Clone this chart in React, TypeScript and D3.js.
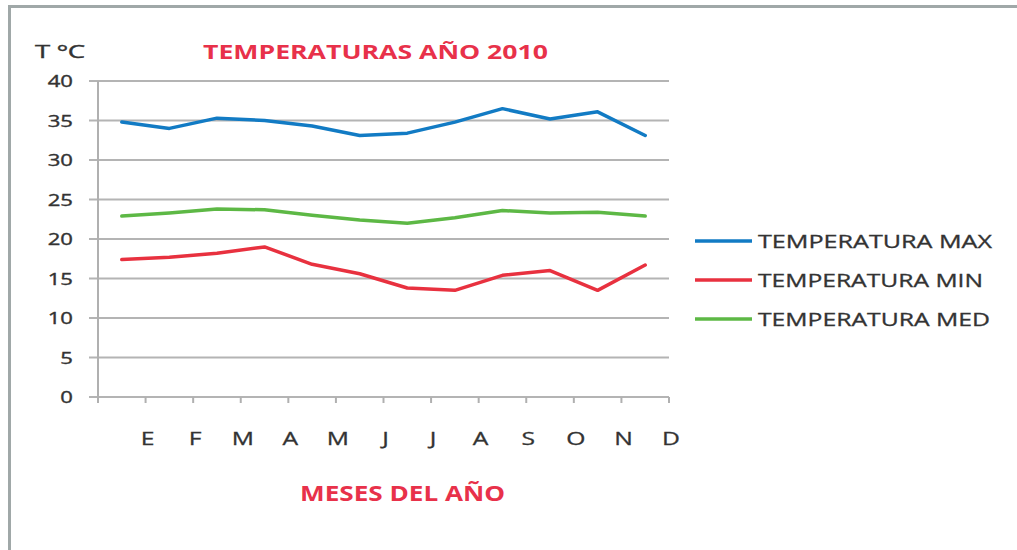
import React, { useEffect, useRef } from 'react';
import * as d3 from 'd3';

const months = ['E', 'F', 'M', 'A', 'M', 'J', 'J', 'A', 'S', 'O', 'N', 'D'];
const tempMax = [34.8, 34.0, 35.3, 35.0, 34.3, 33.1, 33.4, 34.8, 36.5, 35.2, 36.1, 33.1];
const tempMin = [17.4, 17.7, 18.2, 19.0, 16.8, 15.6, 13.8, 13.5, 15.4, 16.0, 13.5, 16.7];
const tempMed = [22.9, 23.3, 23.8, 23.7, 23.0, 22.4, 22.0, 22.7, 23.6, 23.3, 23.4, 22.9];
const yTicks = [0, 5, 10, 15, 20, 25, 30, 35, 40];
const seriesNames = ['TEMPERATURA MAX', 'TEMPERATURA MIN', 'TEMPERATURA MED'];
const seriesColors = ['#127bc4', '#e8313f', '#5db845'];

export default function App() {
    const ref = useRef<SVGSVGElement>(null);

    useEffect(() => {
        const svg = d3.select(ref.current);
        svg.selectAll('*').remove();

        const left = 98, right = 669, top = 81, bottom = 397;
        const font = '"Open Sans", sans-serif';
        const textColor = '#333';
        const sx = 1.3; // the picture is stretched sideways

        // frame
        svg.append('path')
            .attr('d', 'M9.5,550 V6.5 H1017')
            .attr('fill', 'none')
            .attr('stroke', '#a0a8a8')
            .attr('stroke-width', 3);

        const idx = months.map((_, i) => i);
        const x = d3.scaleBand<number>().domain(idx).range([left, right]);
        const y = d3.scaleLinear().domain([0, 40]).range([bottom, top]);

        // gridlines
        svg.append('g').selectAll('line')
            .data(yTicks)
            .enter()
            .append('line')
            .attr('x1', left - 9)
            .attr('x2', right)
            .attr('y1', d => y(d))
            .attr('y2', d => y(d))
            .attr('stroke', '#b4b4b4')
            .attr('stroke-width', 2);

        // y axis line
        svg.append('line')
            .attr('x1', left).attr('x2', left)
            .attr('y1', top).attr('y2', bottom + 6)
            .attr('stroke', '#b0b0b0').attr('stroke-width', 2);

        // x ticks at band edges
        svg.append('g').selectAll('line')
            .data(idx)
            .enter()
            .append('line')
            .attr('x1', d => (x(d) as number) + x.bandwidth())
            .attr('x2', d => (x(d) as number) + x.bandwidth())
            .attr('y1', bottom)
            .attr('y2', bottom + 6)
            .attr('stroke', '#b0b0b0')
            .attr('stroke-width', 2);

        // y tick labels
        svg.append('g').selectAll('text')
            .data(yTicks)
            .enter()
            .append('text')
            .attr('transform', d => `translate(${left - 25},${y(d) + 6}) scale(${sx},1)`)
            .attr('text-anchor', 'end')
            .attr('font-family', font)
            .attr('font-size', 17)
            .attr('fill', textColor)
            .attr('stroke', textColor)
            .attr('stroke-width', 0.4)
            .text(d => d);

        // month labels, placed at right edge of each band like the original
        svg.append('g').selectAll('text')
            .data(idx)
            .enter()
            .append('text')
            .attr('transform', d => `translate(${(x(d) as number) + x.bandwidth() + 2},445) scale(${sx},1)`)
            .attr('text-anchor', 'middle')
            .attr('font-family', font)
            .attr('font-size', 19)
            .attr('fill', textColor)
            .attr('stroke', textColor)
            .attr('stroke-width', 0.3)
            .text(d => months[d]);

        // lines
        const line = d3.line<number>()
            .x((_, i) => (x(i) as number) + x.bandwidth() / 2)
            .y(d => y(d));

        [tempMax, tempMin, tempMed].forEach((s, i) => {
            svg.append('path')
                .datum(s)
                .attr('d', line)
                .attr('fill', 'none')
                .attr('stroke', seriesColors[i])
                .attr('stroke-width', 3.5)
                .attr('stroke-linejoin', 'round')
                .attr('stroke-linecap', 'round');
        });

        // legend
        const legendY = [241, 280, 319];
        const legendLen = [234, 225, 232];
        seriesNames.forEach((name, i) => {
            svg.append('line')
                .attr('x1', 695).attr('x2', 752)
                .attr('y1', legendY[i]).attr('y2', legendY[i])
                .attr('stroke', seriesColors[i])
                .attr('stroke-width', 3.5);
            svg.append('text')
                .attr('x', 758)
                .attr('y', legendY[i] + 7)
                .attr('font-family', font)
                .attr('font-size', 18)
                .attr('fill', textColor)
                .attr('stroke', textColor)
                .attr('stroke-width', 0.3)
                .attr('textLength', legendLen[i])
                .attr('lengthAdjust', 'spacingAndGlyphs')
                .text(name);
        });

        // titles
        svg.append('text')
            .attr('x', 203).attr('y', 59)
            .attr('font-family', font)
            .attr('font-weight', 'bold')
            .attr('font-size', 20)
            .attr('fill', '#e8314a')
            .attr('textLength', 345)
            .attr('lengthAdjust', 'spacingAndGlyphs')
            .text('TEMPERATURAS AÑO 2010');

        svg.append('text')
            .attr('x', 300).attr('y', 501)
            .attr('font-family', font)
            .attr('font-weight', 'bold')
            .attr('font-size', 21)
            .attr('fill', '#e8314a')
            .attr('textLength', 205)
            .attr('lengthAdjust', 'spacingAndGlyphs')
            .text('MESES DEL AÑO');

        svg.append('text')
            .attr('x', 35).attr('y', 58)
            .attr('font-family', font)
            .attr('font-size', 19)
            .attr('fill', textColor)
            .attr('stroke', textColor)
            .attr('stroke-width', 0.4)
            .attr('textLength', 50)
            .attr('lengthAdjust', 'spacingAndGlyphs')
            .text('T ºC');
    }, []);

    return (
        <svg
            ref={ref}
            width={1017}
            height={550}
            style={{ position: 'absolute', left: 0, top: 0, background: '#fff' }}
        />
    );
}
